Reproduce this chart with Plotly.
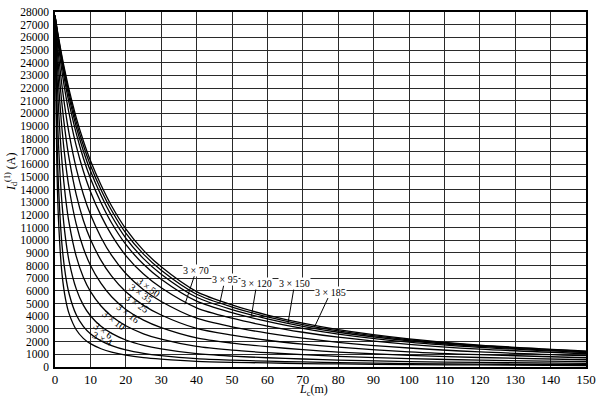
import plotly.graph_objects as go

# cable length Lc (m)
lengths = [0, 0.5, 1, 2, 3, 4, 6, 8, 10, 13, 16, 20, 25, 30, 40, 50, 60, 70, 80, 100, 120, 150]

# single-phase short-circuit current Id(1) (A)
s185 = [27700, 26830, 26000, 24470, 23090, 21850, 19670, 17850, 16290, 14360, 12700, 10900, 9200, 7900, 5950, 4900, 4100, 3460, 2950, 2220, 1730, 1260]
s150 = [27700, 26770, 25900, 24300, 22860, 21570, 19340, 17490, 15920, 13980, 12340, 10560, 8900, 7630, 5740, 4730, 3960, 3350, 2850, 2150, 1680, 1230]
s120 = [27700, 26710, 25780, 24090, 22580, 21240, 18950, 17060, 15470, 13540, 11910, 10170, 8550, 7320, 5500, 4530, 3800, 3210, 2740, 2070, 1620, 1190]
s95 = [27700, 26620, 25610, 23800, 22200, 20800, 18420, 16490, 14890, 12960, 11360, 9670, 8100, 6920, 5190, 4280, 3590, 3040, 2590, 1960, 1550, 1140]
s70 = [27700, 26440, 25290, 23240, 21480, 19960, 17440, 15460, 13850, 11940, 10400, 8790, 7330, 6250, 4670, 3850, 3230, 2740, 2350, 1790, 1410, 1050]
s50 = [27700, 26070, 24610, 22120, 20080, 18370, 15670, 13630, 12040, 10220, 8800, 7370, 6090, 5170, 3850, 3170, 2670, 2270, 1950, 1500, 1190, 890]
s35 = [27700, 25530, 23660, 20640, 18290, 16410, 13590, 11580, 10070, 8410, 7160, 5930, 4860, 4100, 3040, 2510, 2110, 1800, 1560, 1200, 970, 730]
s25 = [27700, 24730, 22330, 18690, 16060, 14080, 11270, 9380, 8030, 6590, 5540, 4540, 3700, 3110, 2300, 1890, 1600, 1370, 1180, 920, 750, 570]
s16 = [27700, 23470, 20360, 16090, 13290, 11320, 8720, 7080, 5960, 4810, 4000, 3250, 2620, 2190, 1620, 1330, 1130, 970, 840, 660, 540, 420]
s10 = [27700, 21470, 17530, 12810, 10090, 8320, 6160, 4880, 4040, 3210, 2650, 2130, 1710, 1430, 1050, 860, 730, 630, 550, 430, 360, 280]
s6 = [27700, 18780, 14200, 9550, 7190, 5760, 4120, 3210, 2630, 2060, 1690, 1350, 1080, 900, 660, 540, 460, 400, 345, 270, 230, 180]
s4 = [27700, 16290, 11540, 7290, 5320, 4190, 2940, 2260, 1840, 1440, 1170, 930, 740, 620, 450, 370, 320, 270, 240, 190, 160, 120]

series_names = ["3 × 185", "3 × 150", "3 × 120", "3 × 95", "3 × 70", "3 × 50",
                "3 × 35", "3 × 25", "3 × 16", "3 × 10", "3 × 6", "3 × 4"]
series_values = [s185, s150, s120, s95, s70, s50, s35, s25, s16, s10, s6, s4]

x_ticks = list(range(0, 151, 10))
y_ticks = list(range(0, 28001, 1000))

FONT = "Liberation Serif, Times New Roman, serif"

fig = go.Figure()
for name, vals in zip(series_names, series_values):
    fig.add_trace(go.Scatter(
        x=lengths, y=vals, mode="lines", name=name,
        line=dict(color="black", width=1.3, shape="spline", smoothing=0.8),
        hoverinfo="x+y+name", showlegend=False,
    ))

# rotated labels on the small-section curves (text centre in data coords, angle)
rot_labels = [
    ("3 × 50", 26.6, 6310, 36),
    ("3 × 35", 24.4, 5790, 34),
    ("3 × 25", 23.3, 5000, 35),
    ("3 × 16", 20.7, 4210, 37),
    ("3 × 10", 16.7, 3680, 37),
    ("3 × 6", 13.6, 2890, 35),
    ("3 × 4", 13.3, 2240, 26),
]
for txt, xx, yy, ang in rot_labels:
    fig.add_annotation(x=xx, y=yy, text=txt, showarrow=False, textangle=ang,
                       font=dict(family=FONT, size=10, color="black"))

# horizontal labels with leader lines (tip, text centre)
lead_labels = [
    ("3 × 70", 36.7, 4950, 39.9, 7630),
    ("3 × 95", 46.5, 4970, 48.0, 6880),
    ("3 × 120", 55.5, 4050, 57.0, 6580),
    ("3 × 150", 65.8, 3420, 67.7, 6580),
    ("3 × 185", 73.3, 3150, 77.9, 5910),
]
for txt, tx, ty, lx, ly in lead_labels:
    fig.add_annotation(x=tx, y=ty, ax=lx, ay=ly, axref="x", ayref="y",
                       text=txt, showarrow=True, arrowhead=0, arrowwidth=1,
                       arrowcolor="black", bgcolor="white", borderpad=0,
                       font=dict(family=FONT, size=10, color="black"))

# axis titles
fig.add_annotation(xref="paper", yref="paper", x=-0.102, xanchor="left", y=0.55,
                   text="<i>I</i><sub>d</sub><sup>(1)</sup> (A)", textangle=-90,
                   showarrow=False, font=dict(family=FONT, size=12, color="black"))
fig.add_annotation(xref="paper", yref="paper", x=0.486, y=-0.065, yanchor="middle",
                   text="<i>L</i><sub>c</sub>(m)", showarrow=False,
                   font=dict(family=FONT, size=12, color="black"))

fig.update_xaxes(range=[0, 150], tickvals=x_ticks, ticktext=[str(v) for v in x_ticks],
                 showgrid=True, gridcolor="#2a2a2a", gridwidth=1, automargin=False,
                 showline=True, linecolor="black", linewidth=1.5, mirror=True,
                 zeroline=False, ticks="", tickfont=dict(family=FONT, size=13, color="black"))
fig.update_yaxes(range=[0, 28000], tickvals=y_ticks, ticktext=[str(v) for v in y_ticks],
                 showgrid=True, gridcolor="#2a2a2a", gridwidth=1, automargin=False,
                 showline=True, linecolor="black", linewidth=1.5, mirror=True,
                 zeroline=False, ticks="", ticklabelstandoff=2,
                 tickfont=dict(family=FONT, size=11.5, color="black"))

fig.update_layout(width=600, height=397,
                  margin=dict(l=55, r=14, t=12, b=30, autoexpand=False),
                  paper_bgcolor="white", plot_bgcolor="white",
                  font=dict(family=FONT, color="black"))

fig.write_html("out.html", config={"displayModeBar": False},
               post_script="document.body.style.margin='0';document.body.style.padding='0';")
